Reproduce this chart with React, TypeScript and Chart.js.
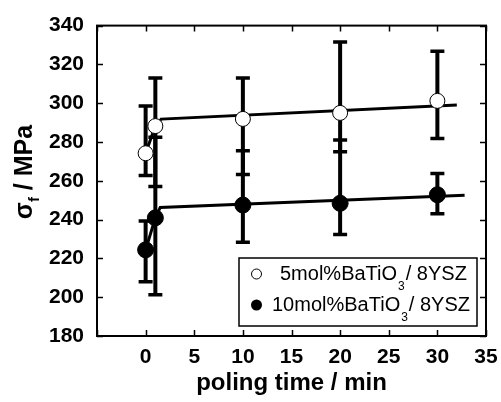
import React, { useEffect, useRef } from 'react';
import { Chart, registerables } from 'chart.js';

Chart.register(...registerables);

// ---- data ----
const times5 = [0, 1, 10, 20, 30];
const strength5 = [274.2, 288.2, 291.9, 295.0, 301.2];
const errLow5 = [262.7, 257.0, 263.2, 275.0, 281.8];
const errHigh5 = [298.6, 313.0, 313.0, 331.5, 326.8];

const times10 = [0, 1, 10, 20, 30];
const strength10 = [224.4, 240.9, 247.5, 248.4, 252.8];
const errLow10 = [208.0, 201.3, 228.3, 232.3, 243.0];
const errHigh10 = [239.3, 282.5, 275.5, 281.0, 263.7];

const fitTimes5 = [0, 1, 1.6, 32];
const fitValues5 = [274.2, 288.2, 291.8, 299.1];
const fitTimes10 = [0, 1, 1.5, 32.8];
const fitValues10 = [224.4, 240.9, 246.3, 252.6];

const xTickValues = [-5, 0, 5, 10, 15, 20, 25, 30, 35];
const xTickLabels = ['', '0', '5', '10', '15', '20', '25', '30', '35'];
const yTickValues = [180, 200, 220, 240, 260, 280, 300, 320, 340];

const legendLabels = [
  { pre: '5mol%BaTiO', sub: '3', post: '/ 8YSZ' },
  { pre: '10mol%BaTiO', sub: '3', post: '/ 8YSZ' },
];
const xTitle = 'poling time / min';
const yTitleMain = 'σ';
const yTitleSub = 'f';
const yTitleRest = ' / MPa';

const FONT = '"Liberation Sans", Arial, Helvetica, sans-serif';

const toPts = (xs: number[], ys: number[]) => xs.map((x, i) => ({ x, y: ys[i] }));

const errorBarPlugin = {
  id: 'errorBars',
  beforeDatasetsDraw(chart: any) {
    const { ctx, scales } = chart;
    const xs = scales.x;
    const ys = scales.y;
    const series = [
      { t: times5, lo: errLow5, hi: errHigh5 },
      { t: times10, lo: errLow10, hi: errHigh10 },
    ];
    ctx.save();
    ctx.strokeStyle = '#000';
    ctx.lineCap = 'butt';
    series.forEach((s) => {
      s.t.forEach((t, i) => {
        const px = xs.getPixelForValue(t);
        const pLo = ys.getPixelForValue(s.lo[i]);
        const pHi = ys.getPixelForValue(s.hi[i]);
        ctx.lineWidth = 4;
        ctx.beginPath();
        ctx.moveTo(px, pLo);
        ctx.lineTo(px, pHi);
        ctx.stroke();
        ctx.lineWidth = 3.5;
        ctx.beginPath();
        ctx.moveTo(px - 7, pLo);
        ctx.lineTo(px + 7, pLo);
        ctx.moveTo(px - 7, pHi);
        ctx.lineTo(px + 7, pHi);
        ctx.stroke();
      });
    });
    ctx.restore();
  },
};

const framePlugin = {
  id: 'frameAndText',
  afterDraw(chart: any) {
    const { ctx, chartArea, scales } = chart;
    const { left, right, top, bottom } = chartArea;
    ctx.save();
    ctx.strokeStyle = '#000';
    ctx.lineWidth = 2;
    ctx.strokeRect(left, top, right - left, bottom - top);
    ctx.lineWidth = 1.5;
    const tl = 6;
    ctx.beginPath();
    xTickValues.forEach((v) => {
      const px = Math.round(scales.x.getPixelForValue(v)) + 0.5;
      ctx.moveTo(px, bottom);
      ctx.lineTo(px, bottom - tl);
      ctx.moveTo(px, top);
      ctx.lineTo(px, top + tl);
    });
    yTickValues.forEach((v) => {
      const py = Math.round(scales.y.getPixelForValue(v)) + 0.5;
      ctx.moveTo(left, py);
      ctx.lineTo(left + tl, py);
      ctx.moveTo(right, py);
      ctx.lineTo(right - tl, py);
    });
    ctx.stroke();

    // x tick labels
    ctx.fillStyle = '#000';
    ctx.font = `bold 21px ${FONT}`;
    ctx.textAlign = 'center';
    ctx.textBaseline = 'middle';
    xTickValues.forEach((v, i) => {
      const lab = xTickLabels[i];
      if (!lab) return;
      ctx.fillText(lab, scales.x.getPixelForValue(v), 357);
    });

    // x title
    ctx.font = `bold 24px ${FONT}`;
    ctx.fillText(xTitle, (left + right) / 2, 383);

    // y title (rotated)
    ctx.save();
    ctx.translate(25, 172);
    ctx.rotate(-Math.PI / 2);
    ctx.textAlign = 'left';
    ctx.textBaseline = 'middle';
    const mainFont = `bold 25px ${FONT}`;
    const subFont = `bold 15px ${FONT}`;
    ctx.font = mainFont;
    const wMain = ctx.measureText(yTitleMain).width;
    const wRest = ctx.measureText(yTitleRest).width;
    ctx.font = subFont;
    const wSub = ctx.measureText(yTitleSub).width;
    const total = wMain + wSub + wRest;
    let x0 = -total / 2;
    ctx.font = mainFont;
    ctx.fillText(yTitleMain, x0, 0);
    x0 += wMain;
    ctx.font = subFont;
    ctx.fillText(yTitleSub, x0, 10);
    x0 += wSub;
    ctx.font = mainFont;
    ctx.fillText(yTitleRest, x0, 0);
    ctx.restore();

    // legend
    const bx = 239, by = 258, bw = 238, bh = 68;
    ctx.fillStyle = '#fff';
    ctx.fillRect(bx, by, bw, bh);
    ctx.lineWidth = 1.5;
    ctx.strokeStyle = '#000';
    ctx.strokeRect(bx, by, bw, bh);
    const rows = [
      { cy: 274, tx: 280, filled: false },
      { cy: 305, tx: 272, filled: true },
    ];
    rows.forEach((r, i) => {
      ctx.beginPath();
      ctx.arc(256.5, r.cy, r.filled ? 5.5 : 5, 0, Math.PI * 2);
      if (r.filled) {
        ctx.fillStyle = '#000';
        ctx.fill();
      } else {
        ctx.fillStyle = '#fff';
        ctx.fill();
        ctx.lineWidth = 1;
        ctx.stroke();
      }
      const lab = legendLabels[i];
      ctx.fillStyle = '#000';
      ctx.textAlign = 'left';
      ctx.textBaseline = 'middle';
      ctx.font = `20px ${FONT}`;
      ctx.fillText(lab.pre, r.tx, r.cy);
      let x = r.tx + ctx.measureText(lab.pre).width + 1;
      ctx.font = `12px ${FONT}`;
      ctx.fillText(lab.sub, x, r.cy + 13);
      x += ctx.measureText(lab.sub).width + 1;
      ctx.font = `20px ${FONT}`;
      ctx.fillText(lab.post, x, r.cy);
    });
    ctx.restore();
  },
};

export default function App() {
  const ref = useRef<HTMLCanvasElement>(null);
  useEffect(() => {
    const canvas = ref.current;
    if (!canvas) return;
    const chart = new Chart(canvas, {
      type: 'scatter',
      data: {
        datasets: [
          {
            label: 'fit5',
            data: toPts(fitTimes5, fitValues5),
            showLine: true,
            borderColor: '#000',
            borderWidth: 3,
            pointRadius: 0,
            order: 3,
          } as any,
          {
            label: 'fit10',
            data: toPts(fitTimes10, fitValues10),
            showLine: true,
            borderColor: '#000',
            borderWidth: 3,
            pointRadius: 0,
            order: 3,
          } as any,
          {
            label: '5mol%BaTiO3 / 8YSZ',
            data: toPts(times5, strength5),
            pointRadius: 7.5,
            pointBackgroundColor: '#fff',
            pointBorderColor: '#000',
            pointBorderWidth: 1,
            order: 1,
          } as any,
          {
            label: '10mol%BaTiO3 / 8YSZ',
            data: toPts(times10, strength10),
            pointRadius: 8,
            pointBackgroundColor: '#000',
            pointBorderColor: '#000',
            pointBorderWidth: 1,
            order: 1,
          } as any,
        ],
      },
      options: {
        responsive: false,
        animation: false,
        layout: { padding: { top: 20, right: 15, left: 0, bottom: 0 } },
        plugins: {
          legend: { display: false },
          tooltip: { enabled: false },
          title: { display: false },
        },
        scales: {
          x: {
            type: 'linear',
            min: -5,
            max: 35,
            afterBuildTicks: (scale: any) => {
              scale.ticks = xTickValues.map((v) => ({ value: v }));
            },
            afterFit: (scale: any) => {
              scale.height = 66;
            },
            grid: { display: false, drawTicks: false },
            border: { display: false },
            ticks: { display: false },
          },
          y: {
            type: 'linear',
            min: 180,
            max: 340,
            afterBuildTicks: (scale: any) => {
              scale.ticks = yTickValues.map((v) => ({ value: v }));
            },
            afterFit: (scale: any) => {
              scale.width = 97;
            },
            grid: { display: false, drawTicks: false },
            border: { display: false },
            ticks: {
              color: '#000',
              padding: 13,
              autoSkip: false,
              font: { family: FONT, size: 21, weight: 'bold' },
              callback: (v: any) => String(v),
            },
          },
        },
      },
      plugins: [errorBarPlugin, framePlugin],
    } as any);
    return () => chart.destroy();
  }, []);
  return (
    <div style={{ position: 'absolute', left: 0, top: 0, width: 501, height: 402, background: '#fff' }}>
      <canvas ref={ref} width={501} height={402} style={{ width: 501, height: 402, display: 'block' }} />
    </div>
  );
}
